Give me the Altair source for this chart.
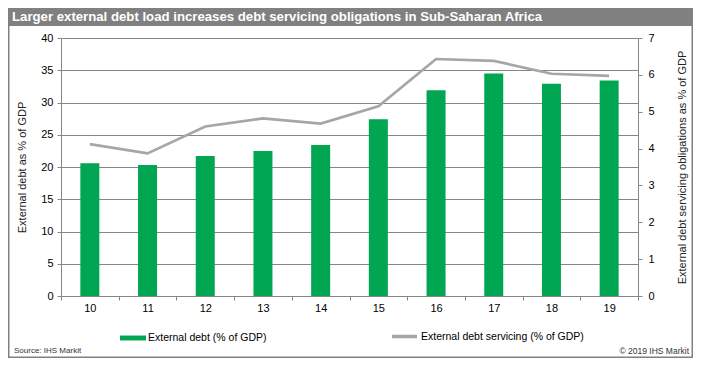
import altair as alt
import pandas as pd

# ---- data ----
years = ["10", "11", "12", "13", "14", "15", "16", "17", "18", "19"]
external_debt = [20.6, 20.3, 21.7, 22.5, 23.4, 27.4, 31.9, 34.5, 32.9, 33.4]
debt_servicing = [4.12, 3.87, 4.60, 4.82, 4.68, 5.15, 6.43, 6.38, 6.03, 5.97]
left_ticks = [0, 5, 10, 15, 20, 25, 30, 35, 40]
right_ticks = [0, 1, 2, 3, 4, 5, 6, 7]

title_text = "Larger external debt load increases debt servicing obligations in Sub-Saharan Africa"
left_title = "External debt as % of GDP"
right_title = "External debt servicing obligations as % of GDP"
bar_label = "External debt (% of GDP)"
line_label = "External debt servicing (% of GDP)"
source_text = "Source: IHS Markit"
copyright_text = "\u00a9 2019 IHS Markit"

FONT = "Liberation Sans, Arial, Helvetica, sans-serif"
GREEN = "#00a651"
LINE_GRAY = "#a6a6a6"
AX_GRAY = "#868686"

df = pd.DataFrame({
    "year": years,
    "debt": external_debt,
    "servicing": debt_servicing,
    "s_debt": [bar_label] * len(years),
    "s_serv": [line_label] * len(years),
})

W, H = 577, 258
one = alt.Data(values=[{"k": 1}])

x_enc = alt.X(
    "year:N", sort=years, title=None,
    scale=alt.Scale(paddingInner=0, paddingOuter=0),
    axis=alt.Axis(labelAngle=0, tickBand="extent", tickSize=4, tickColor=AX_GRAY,
                  domainColor=AX_GRAY, labelFontSize=11, labelFont=FONT,
                  labelColor="#000000", labelPadding=2, grid=False),
)

bars = alt.Chart(df).mark_bar(size=19).encode(
    x=x_enc,
    y=alt.Y("debt:Q", scale=alt.Scale(domain=[0, 40]),
            axis=alt.Axis(values=left_ticks, grid=True, gridColor=AX_GRAY, gridWidth=1,
                          domainColor=AX_GRAY, tickColor=AX_GRAY, tickSize=4,
                          labelFontSize=11, labelFont=FONT, labelColor="#000000",
                          labelPadding=4, title=left_title, titleFont=FONT,
                          titleFontSize=11, titleFontWeight="normal", titleColor="#222222",
                          titleAngle=270, titleX=-39, titleY=H / 2, titleAlign="center",
                          titleBaseline="middle")),
    color=alt.Color("s_debt:N", scale=alt.Scale(range=[GREEN]),
                    legend=alt.Legend(orient="none", legendX=59, legendY=287, title=None,
                                      symbolType="M-1,-0.19H1V0.19H-1Z", symbolSize=676,
                                      symbolStrokeWidth=0, labelFont=FONT, labelFontSize=10.5,
                                      labelColor="#000000", labelOffset=2, labelLimit=400,
                                      padding=0)),
)

line = alt.Chart(df).mark_line(color=LINE_GRAY, strokeWidth=2.7).encode(
    x=alt.X("year:N", sort=years),
    y=alt.Y("servicing:Q", scale=alt.Scale(domain=[0, 7]),
            axis=alt.Axis(orient="right", values=right_ticks, grid=False,
                          domainColor=AX_GRAY, tickColor=AX_GRAY, tickSize=4,
                          labelFontSize=11, labelFont=FONT, labelColor="#000000",
                          labelPadding=6, title=right_title, titleFont=FONT,
                          titleFontSize=11, titleFontWeight="normal", titleColor="#222222",
                          titleAngle=270, titleX=44, titleY=H / 2, titleAlign="center",
                          titleBaseline="middle")),
    stroke=alt.Stroke("s_serv:N", scale=alt.Scale(range=[LINE_GRAY]),
                      legend=alt.Legend(orient="none", legendX=329, legendY=284, title=None,
                                        symbolType="stroke", symbolSize=625,
                                        symbolStrokeWidth=3.5, labelFont=FONT,
                                        labelFontSize=10.5, labelColor="#000000",
                                        labelOffset=2, labelLimit=400, padding=0)),
)

border = alt.Chart(one).mark_rect(fill=None, stroke="#808080", strokeWidth=1.5).encode(
    x=alt.value(-52.25), x2=alt.value(631.25), y=alt.value(-29.25), y2=alt.value(319.25)
)
banner = alt.Chart(one).mark_rect(fill="#808080").encode(
    x=alt.value(-53), x2=alt.value(632), y=alt.value(-30), y2=alt.value(-12)
)
title = alt.Chart(one).mark_text(text=title_text, font=FONT, fontSize=13.2, fontWeight="bold",
                                 color="#ffffff", align="left", baseline="middle").encode(
    x=alt.value(-49), y=alt.value(-21)
)
source = alt.Chart(one).mark_text(text=source_text, font=FONT, fontSize=8, color="#333333",
                                  align="left", baseline="middle").encode(
    x=alt.value(-47), y=alt.value(313)
)
copy_ = alt.Chart(one).mark_text(text=copyright_text, font=FONT, fontSize=8.5, color="#333333",
                                 align="right", baseline="middle").encode(
    x=alt.value(628), y=alt.value(313)
)

chart = alt.layer(border, banner, bars, line, title, source, copy_).resolve_scale(
    y="independent", color="independent"
).properties(
    width=W, height=H,
    autosize=alt.AutoSizeParams(type="none"),
    padding={"left": 53, "top": 30, "right": 55, "bottom": 62},
    background="#ffffff",
).configure_view(stroke=None)

chart.save("out.html", embed_options={"renderer": "svg", "actions": False})
